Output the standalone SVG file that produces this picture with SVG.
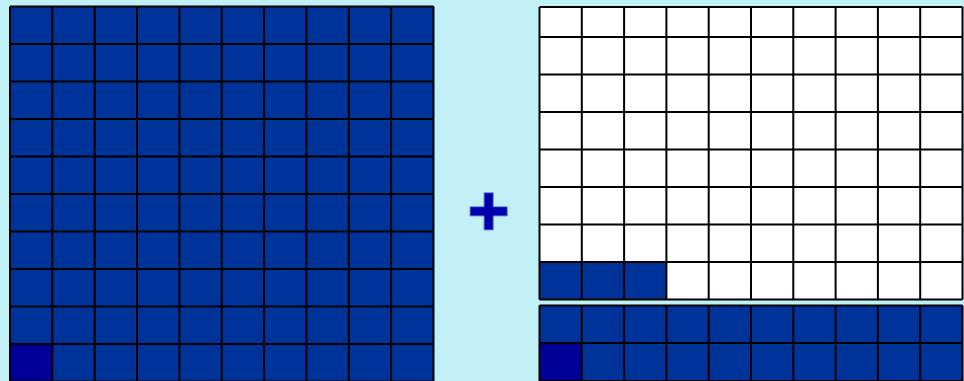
<svg xmlns="http://www.w3.org/2000/svg" width="964" height="381" viewBox="0 0 964 381">
<style>
.grid{fill:none;stroke:#000;stroke-width:2}
.blue{fill:#003399}
.dark{fill:#000099}
.white{fill:#fff}
</style>
<rect x="0" y="0" width="964" height="381" fill="#C2F0F7"/>
<g id="left-grid">
<rect class="blue" x="10" y="6.5" width="423.5" height="375"/>
<rect class="dark" x="10" y="344" width="42.35" height="37.5"/>
<path class="grid" d="M10 6.5V381.5M52.35 6.5V381.5M94.7 6.5V381.5M137.05 6.5V381.5M179.4 6.5V381.5M221.75 6.5V381.5M264.1 6.5V381.5M306.45 6.5V381.5M348.8 6.5V381.5M391.15 6.5V381.5M433.5 6.5V381.5M10 6.5H433.5M10 44H433.5M10 81.5H433.5M10 119H433.5M10 156.5H433.5M10 194H433.5M10 231.5H433.5M10 269H433.5M10 306.5H433.5M10 344H433.5M10 381.5H433.5"/>
</g>
<g id="plus">
<path d="M484 192.7H493.3V206.7H507.3V216H493.3V230H484V216H470V206.7H484Z" fill="#0000AA" stroke="#7090E8" stroke-width="1"/>
</g>
<g id="right-top-grid">
<rect class="white" x="539.5" y="7" width="423" height="292.5"/>
<rect class="blue" x="539.5" y="262" width="126.9" height="37.5"/>
<path class="grid" d="M539.5 7V299.5M581.8 7V299.5M624.1 7V299.5M666.4 7V299.5M708.7 7V299.5M751 7V299.5M793.3 7V299.5M835.6 7V299.5M877.9 7V299.5M920.2 7V299.5M962.5 7V299.5M539.5 7H962.5M539.5 37H962.5M539.5 74.5H962.5M539.5 112H962.5M539.5 149.5H962.5M539.5 187H962.5M539.5 224.5H962.5M539.5 262H962.5M539.5 299.5H962.5"/>
</g>
<g id="right-bottom-grid">
<rect class="blue" x="539.5" y="305.5" width="423" height="76"/>
<rect class="dark" x="539.5" y="343" width="42.3" height="38"/>
<path class="grid" d="M539.5 305.5V381.5M581.8 305.5V381.5M624.1 305.5V381.5M666.4 305.5V381.5M708.7 305.5V381.5M751 305.5V381.5M793.3 305.5V381.5M835.6 305.5V381.5M877.9 305.5V381.5M920.2 305.5V381.5M962.5 305.5V381.5M539.5 305.5H962.5M539.5 343H962.5M539.5 381H962.5"/>
</g>
<g id="connectors"></g>
</svg>
